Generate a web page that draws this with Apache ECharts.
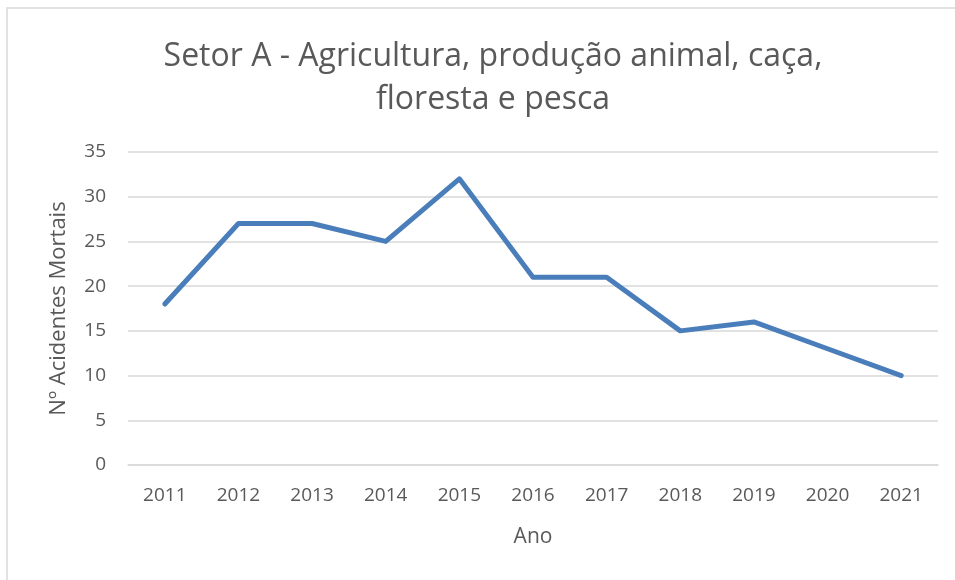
<!DOCTYPE html>
<html>
<head>
<meta charset="utf-8">
<script src="https://cdn.jsdelivr.net/npm/echarts@6/dist/echarts.min.js"></script>
<style>
  html, body { margin: 0; padding: 0; background: #fff; }
  #chart { width: 955px; height: 580px; }
</style>
</head>
<body>
<div id="chart"></div>
<script>
  const years = ['2011', '2012', '2013', '2014', '2015', '2016', '2017', '2018', '2019', '2020', '2021'];
  const deaths = [18, 27, 27, 25, 32, 21, 21, 15, 16, 13, 10];
  const yTicks = [0, 5, 10, 15, 20, 25, 30, 35];

  const textColor = '#595959';
  const fontFamily = 'Open Sans, Noto Sans, sans-serif';

  const chart = echarts.init(document.getElementById('chart'));
  const option = {
    animation: false,
    backgroundColor: '#fff',
    graphic: [{
      type: 'rect',
      shape: { x: 7, y: 8, width: 960, height: 590 },
      style: { fill: 'none', stroke: '#d9d9d9', lineWidth: 1.5 },
      z: -1
    }],
    title: {
      text: 'Setor A - Agricultura, produção animal, caça,\nfloresta e pesca',
      left: 488,
      textAlign: 'center',
      top: 30,
      textStyle: {
        color: textColor,
        fontFamily: fontFamily,
        fontWeight: 'normal',
        fontSize: 32,
        lineHeight: 43
      }
    },
    grid: {
      left: 128,
      right: 17,
      top: 152,
      bottom: 115
    },
    xAxis: {
      type: 'category',
      data: years,
      boundaryGap: true,
      name: 'Ano',
      nameLocation: 'middle',
      nameGap: 62,
      nameTextStyle: { color: textColor, fontFamily: fontFamily, fontSize: 21 },
      axisLine: { show: true, lineStyle: { color: '#d9d9d9', width: 1.5 } },
      axisTick: { show: false },
      axisLabel: { color: textColor, fontFamily: fontFamily, fontSize: 19, margin: 21 }
    },
    yAxis: {
      type: 'value',
      min: yTicks[0],
      max: yTicks[yTicks.length - 1],
      interval: 5,
      name: 'Nº Acidentes Mortais',
      nameLocation: 'middle',
      nameGap: 58,
      nameRotate: 90,
      nameTextStyle: { color: textColor, fontFamily: fontFamily, fontSize: 22 },
      axisLine: { show: false },
      axisTick: { show: false },
      axisLabel: { color: textColor, fontFamily: fontFamily, fontSize: 19, margin: 22 },
      splitLine: { lineStyle: { color: '#d9d9d9', width: 1.5 } }
    },
    series: [{
      type: 'line',
      data: deaths,
      showSymbol: false,
      symbol: 'none',
      lineStyle: { color: '#4a7ebb', width: 5, cap: 'round', join: 'round' }
    }]
  };
  chart.setOption(option);
</script>
</body>
</html>
